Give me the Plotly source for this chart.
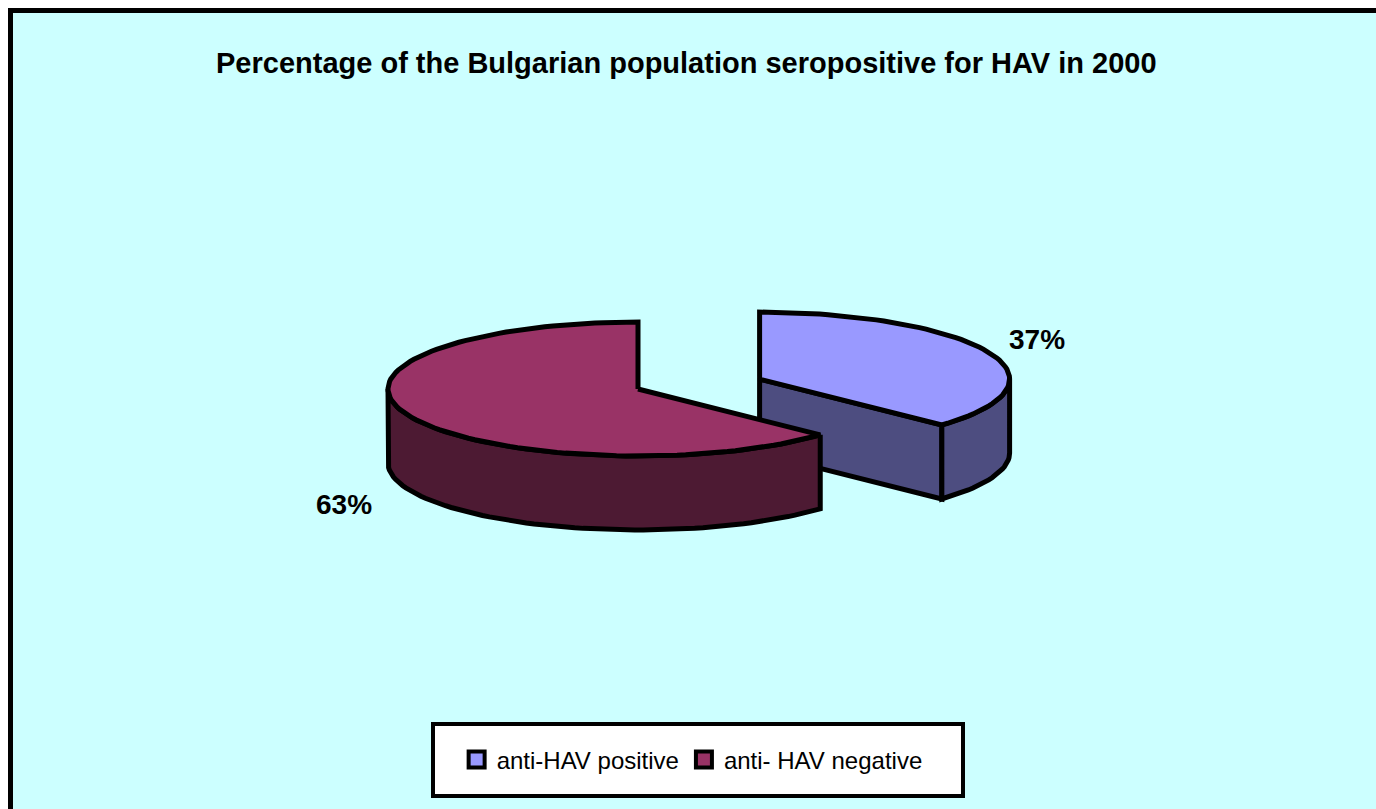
import math
import plotly.graph_objects as go

# ---- data ----
labels = ["anti-HAV positive", "anti- HAV negative"]
values = [37, 63]
top_colors = ["#9999FF", "#993366"]
side_colors = ["#4D4D80", "#4D1A33"]
explode = [0.53, 0.0]
title = "Percentage of the Bulgarian population seropositive for HAV in 2000"

# ---- geometry of the 3-D pie (pixel space) ----
CX, CY = 638, 389
RX, RY = 250, 67
EXPLODE_RY = 47          # vertical squash used for the explosion offset
DEPTH = 74
W, H = 1376, 809

total = sum(values)
fig = go.Figure()

def pt(cx, cy, t, dy=0.0):
    return cx + RX * math.sin(t), cy - RY * math.cos(t) + dy

def arc(cx, cy, a0, a1, dy=0.0):
    n = max(2, int(abs(a1 - a0) / math.radians(2)) + 1)
    xs, ys = [], []
    for i in range(n + 1):
        t = a0 + (a1 - a0) * i / n
        x, y = pt(cx, cy, t, dy)
        xs.append(x); ys.append(y)
    return xs, ys

slices = []
start = 0.0
for lab, v, tc, sc, e in zip(labels, values, top_colors, side_colors, explode):
    a0 = start
    a1 = start + 2 * math.pi * v / total
    mid = (a0 + a1) / 2
    cx = CX + e * RX * math.sin(mid)
    cy = CY - e * EXPLODE_RY * math.cos(mid)
    slices.append(dict(lab=lab, v=v, tc=tc, sc=sc, a0=a0, a1=a1, mid=mid, cx=cx, cy=cy))
    start = a1

# back slices first
order = sorted(range(len(slices)), key=lambda i: -math.cos(slices[i]["mid"]))
LW = 5

def poly(xs, ys, color):
    fig.add_trace(go.Scatter(x=xs + [xs[0]], y=ys + [ys[0]], mode="lines", fill="toself",
                             fillcolor=color, line=dict(color="black", width=LW),
                             hoverinfo="skip", showlegend=False))

for i in order:
    s = slices[i]
    cx, cy, a0, a1 = s["cx"], s["cy"], s["a0"], s["a1"]
    # radial faces turned toward the viewer
    if math.sin(a1) > 1e-6:
        ex, ey = pt(cx, cy, a1)
        poly([cx, ex, ex, cx], [cy, ey, ey + DEPTH, cy + DEPTH], s["sc"])
    if math.sin(a0) < -1e-6:
        ex, ey = pt(cx, cy, a0)
        poly([cx, ex, ex, cx], [cy, ey, ey + DEPTH, cy + DEPTH], s["sc"])
    # outer curved side (front half only)
    lo = max(a0, math.pi / 2)
    hi = min(a1, 3 * math.pi / 2)
    if hi > lo:
        xs, ys = arc(cx, cy, lo, hi)
        xb, yb = arc(cx, cy, lo, hi, DEPTH)
        poly(xs + xb[::-1], ys + yb[::-1], s["sc"])
    # top face
    xs, ys = arc(cx, cy, a0, a1)
    poly([cx] + xs, [cy] + ys, s["tc"])

# percentage labels
K = 1.24
annotations = []
for s in slices:
    front = math.cos(s["mid"]) < 0
    lx = s["cx"] + K * RX * math.sin(s["mid"])
    ly = s["cy"] - K * RY * math.cos(s["mid"]) + (DEPTH + 8 if front else -7)
    annotations.append(dict(x=lx - (10 if front else 7), y=ly, xref="x", yref="y", showarrow=False,
                            text=f"<b>{round(100 * s['v'] / total)}%</b>",
                            font=dict(family="Liberation Sans, Arial", size=28, color="black")))

annotations.append(dict(x=686, y=63, xref="x", yref="y", showarrow=False,
                        text="<b>" + title + "</b>",
                        font=dict(family="Liberation Sans, Arial", size=29, color="black")))

# legend entries
for lab, tc in zip(labels, top_colors):
    fig.add_trace(go.Scatter(x=[None], y=[None], mode="markers", name=lab,
                             marker=dict(symbol="square", size=16, color=tc,
                                         line=dict(color="black", width=4))))

shapes = [
    dict(type="rect", xref="x", yref="y", x0=10.5, y0=10.5, x1=W, y1=H,
         fillcolor="#CCFFFF", line=dict(width=0), layer="below"),
    dict(type="line", xref="x", yref="y", x0=10.5, y0=8, x1=10.5, y1=H,
         line=dict(color="black", width=5), layer="below"),
    dict(type="line", xref="x", yref="y", x0=8, y0=10.5, x1=W, y1=10.5,
         line=dict(color="black", width=5), layer="below"),
    dict(type="rect", xref="x", yref="y", x0=433, y0=724, x1=963, y1=796,
         fillcolor="white", line=dict(color="black", width=4), layer="below"),
]

fig.update_layout(
    width=W, height=H,
    margin=dict(l=0, r=0, t=0, b=0),
    paper_bgcolor="white", plot_bgcolor="rgba(0,0,0,0)",
    xaxis=dict(range=[0, W], visible=False, fixedrange=True),
    yaxis=dict(range=[H, 0], visible=False, fixedrange=True),
    shapes=shapes, annotations=annotations,
    showlegend=True,
    legend=dict(orientation="h", x=0.503, xanchor="center", y=1 - 760 / H, yanchor="middle",
                bgcolor="rgba(0,0,0,0)", borderwidth=0,
                font=dict(family="Liberation Sans, Arial", size=24, color="black"),
                itemclick=False, itemdoubleclick=False),
)

fig.write_html("out.html")
